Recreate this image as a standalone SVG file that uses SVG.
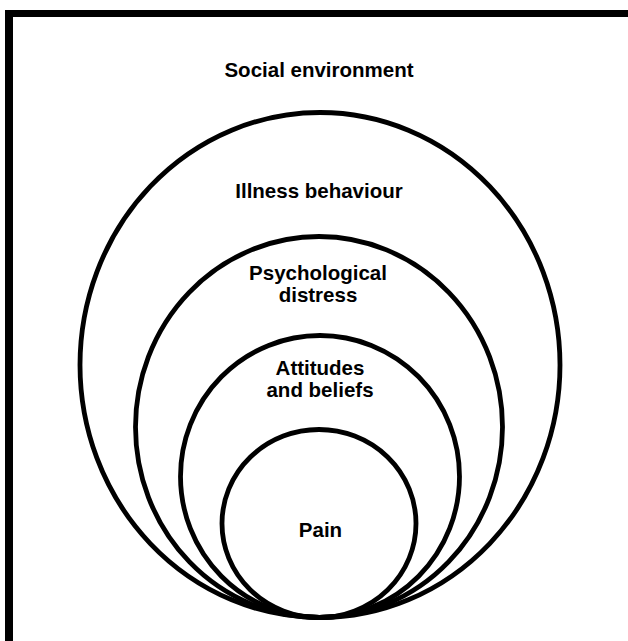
<svg xmlns="http://www.w3.org/2000/svg" width="628" height="641" viewBox="0 0 628 641">
<style>
.ring{fill:none;stroke:#000;stroke-width:4.8}
.lbl{font-family:"Liberation Sans",Arial,sans-serif;font-weight:bold;font-size:20.5px;fill:#000;text-anchor:middle}
</style>
<rect width="628" height="641" fill="#fff"/>
<g id="frame">
<rect x="5" y="10" width="623" height="7" fill="#000"/>
<rect x="5" y="10" width="8" height="631" fill="#000"/>
</g>
<g id="social-environment">
<text class="lbl" x="319" y="77">Social environment</text>
</g>
<g id="illness-behaviour">
<ellipse class="ring" cx="320" cy="365" rx="240" ry="252.5"/>
<text class="lbl" x="319" y="198">Illness behaviour</text>
</g>
<g id="psychological-distress">
<ellipse class="ring" cx="319" cy="427" rx="183.5" ry="190.5"/>
<text class="lbl" x="318" y="280">Psychological</text>
<text class="lbl" x="318" y="302">distress</text>
</g>
<g id="attitudes-beliefs">
<ellipse class="ring" cx="320" cy="476.5" rx="139.5" ry="141"/>
<text class="lbl" x="320" y="375">Attitudes</text>
<text class="lbl" x="320" y="397">and beliefs</text>
</g>
<g id="pain">
<ellipse class="ring" cx="319" cy="523.5" rx="97" ry="94"/>
<text class="lbl" x="320.5" y="537">Pain</text>
</g>
<g id="connectors"></g>
</svg>
